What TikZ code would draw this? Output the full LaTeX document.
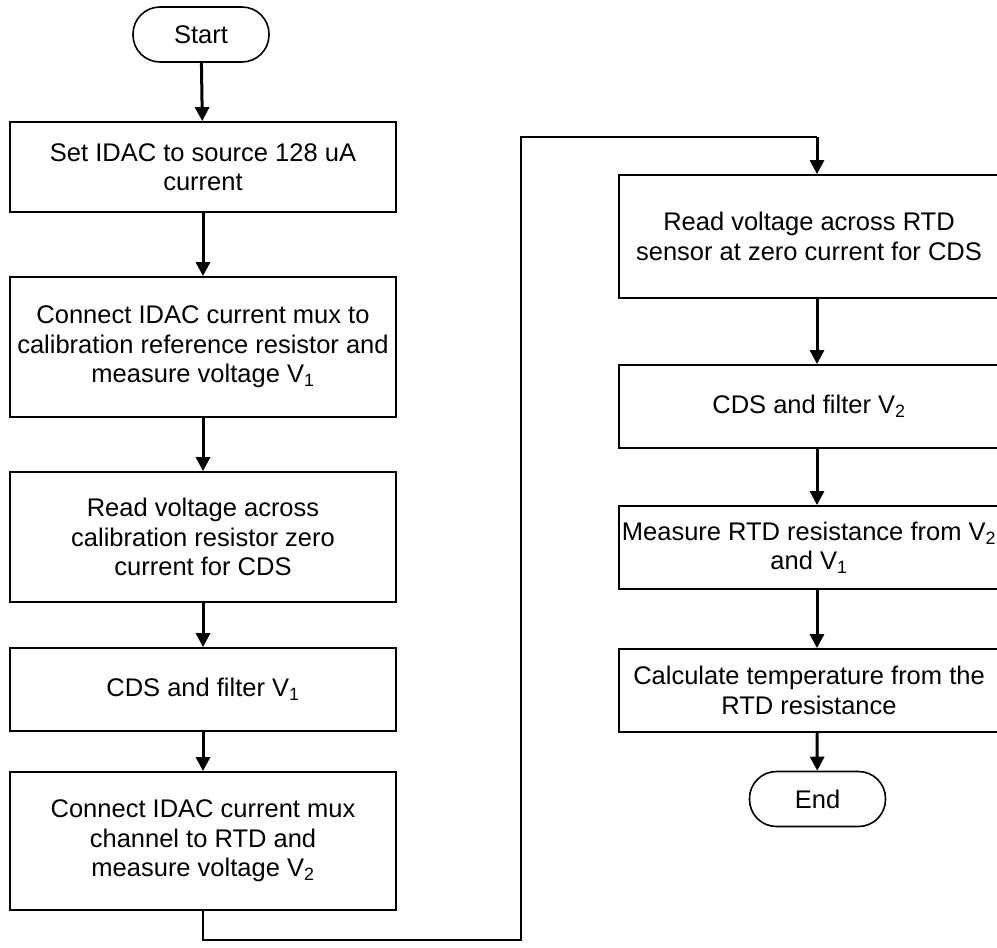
\documentclass[tikz,border=0pt]{standalone}
\usepackage{fontspec}
\setmainfont{Liberation Sans}
\usetikzlibrary{arrows.meta, positioning}

\begin{document}
\begin{tikzpicture}[x=1pt, y=-1pt,
    procbox/.style={draw, line width=1.8pt, rectangle, align=center, inner sep=0pt,
        font=\fontsize{25.5}{29.5}\selectfont},
    termbox/.style={draw, line width=1.6pt, rectangle, rounded corners=27pt, inner sep=0pt,
        minimum width=136pt, minimum height=55pt, font=\fontsize{25.5}{29.5}\selectfont},
    flow/.style={line width=3pt, -{Triangle[length=14pt, width=14pt]}},
    loopline/.style={line width=1.8pt}]
    \useasboundingbox (0,0) rectangle (997,948);
    \clip (0,0) rectangle (997,948);

    % Left column
    \node[termbox] (start) at (201,34.5) {Start};
    \node[procbox, minimum width=386pt, minimum height=90pt] (b1) at (203,167)
        {Set IDAC to source 128 uA\\current};
    \node[procbox, minimum width=386pt, minimum height=140pt] (b2) at (203,347)
        {Connect IDAC current mux to\\calibration reference resistor and\\measure voltage V\textsubscript{1}};
    \node[procbox, minimum width=386pt, minimum height=130pt] (b3) at (203,537)
        {Read voltage across\\calibration resistor zero\\current for CDS};
    \node[procbox, minimum width=386pt, minimum height=83pt] (b4) at (203,689.5)
        {CDS and filter V\textsubscript{1}};
    \node[procbox, minimum width=386pt, minimum height=138pt] (b5) at (203,841)
        {Connect IDAC current mux\\channel to RTD and\\measure voltage V\textsubscript{2}};

    % Right column (boxes run past the right edge)
    \coordinate (rcol) at (817,0);
    \node[procbox, minimum width=380pt, minimum height=123pt] (r1) at (809,236.5)
        {Read voltage across RTD\\sensor at zero current for CDS};
    \node[procbox, minimum width=380pt, minimum height=83pt] (r2) at (809,406.5)
        {CDS and filter V\textsubscript{2}};
    \node[procbox, minimum width=380pt, minimum height=83pt] (r3) at (809,547.5)
        {Measure RTD resistance from V\textsubscript{2}\\and V\textsubscript{1}};
    \node[procbox, minimum width=380pt, minimum height=83pt] (r4) at (809,690.5)
        {Calculate temperature from the\\RTD resistance};
    \node[termbox] (end) at (817.5,799) {End};

    % Arrows
    \draw[flow] (start) -- (b1);
    \draw[flow] (b1) -- (b2);
    \draw[flow] (b2) -- (b3);
    \draw[flow] (b3) -- (b4);
    \draw[flow] (b4) -- (b5);

    % Jump to right column
    \coordinate (loopbot) at (521,940);
    \coordinate (looptop) at (521,137);
    \draw[loopline] (b5.south) |- (loopbot) -- (looptop) -- (looptop -| rcol);
    \draw[flow] (looptop -| rcol) -- (r1.north -| rcol);

    \draw[flow] (r1.south -| rcol) -- (r2.north -| rcol);
    \draw[flow] (r2.south -| rcol) -- (r3.north -| rcol);
    \draw[flow] (r3.south -| rcol) -- (r4.north -| rcol);
    \draw[flow] (r4.south -| rcol) -- (end);
\end{tikzpicture}
\end{document}
